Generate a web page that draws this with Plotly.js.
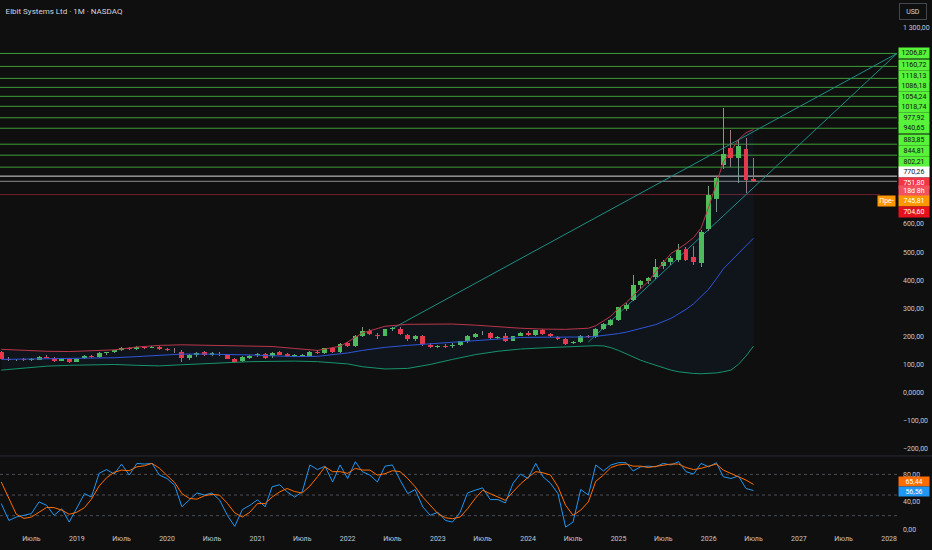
<!DOCTYPE html>
<html><head><meta charset="utf-8">
<script src="https://cdn.plot.ly/plotly-3.0.1.min.js"></script>
<style>html,body{margin:0;padding:0;background:#0f0f0f;overflow:hidden}#chart{width:932px;height:550px}</style>
</head><body><div id="chart"></div>
<script>
// ---------- DATA ----------
const dates = [
'2018-03-01','2018-04-01','2018-05-01','2018-06-01','2018-07-01','2018-08-01','2018-09-01','2018-10-01','2018-11-01','2018-12-01',
'2019-01-01','2019-02-01','2019-03-01','2019-04-01','2019-05-01','2019-06-01','2019-07-01','2019-08-01','2019-09-01','2019-10-01','2019-11-01','2019-12-01',
'2020-01-01','2020-02-01','2020-03-01','2020-04-01','2020-05-01','2020-06-01','2020-07-01','2020-08-01','2020-09-01','2020-10-01','2020-11-01','2020-12-01',
'2021-01-01','2021-02-01','2021-03-01','2021-04-01','2021-05-01','2021-06-01','2021-07-01','2021-08-01','2021-09-01','2021-10-01','2021-11-01','2021-12-01',
'2022-01-01','2022-02-01','2022-03-01','2022-04-01','2022-05-01','2022-06-01','2022-07-01','2022-08-01','2022-09-01','2022-10-01','2022-11-01','2022-12-01',
'2023-01-01','2023-02-01','2023-03-01','2023-04-01','2023-05-01','2023-06-01','2023-07-01','2023-08-01','2023-09-01','2023-10-01','2023-11-01','2023-12-01',
'2024-01-01','2024-02-01','2024-03-01','2024-04-01','2024-05-01','2024-06-01','2024-07-01','2024-08-01','2024-09-01','2024-10-01','2024-11-01','2024-12-01',
'2025-01-01','2025-02-01','2025-03-01','2025-04-01','2025-05-01','2025-06-01','2025-07-01','2025-08-01','2025-09-01','2025-10-01','2025-11-01','2025-12-01',
'2026-01-01','2026-02-01','2026-03-01','2026-04-01','2026-05-01','2026-06-01','2026-07-01'];

const open = [
145,121,115,119,116,117,128,124,113,121,
110,122,130,126,140,143,150,159,155,162,160,163,
155,151,146,122,134,143,135,139,132,121,112,122,
133,136,129,143,136,131,131,130,146,141,157,144,
176,166,203,218,206,203,226,227,204,189,203,171,
163,167,166,168,182,197,211,213,195,200,184,203,
213,206,221,209,197,191,177,180,201,197,227,242,
259,298,331,383,396,412,449,463,472,510,481,461,
582,690,809,871,836,868,761];
const high = [
149,125,121,122,122,131,133,126,124,123,
123,132,133,143,146,152,162,162,165,167,167,166,
158,158,150,138,146,148,144,145,136,124,130,134,
141,141,145,149,140,136,137,147,150,160,162,176,
180,206,235,225,213,230,232,232,208,206,206,175,
170,172,175,184,205,212,218,216,203,212,202,214,
218,224,226,213,201,194,185,206,206,230,248,262,
306,318,420,400,412,475,472,486,528,518,522,580,
735,770,1013,936,903,907,836];
const low = [
118,112,112,114,114,115,122,108,111,106,
108,119,122,124,135,140,147,150,152,155,157,152,
148,142,108,117,128,130,131,131,118,107,110,120,
128,120,122,133,128,126,127,128,139,139,140,142,
162,162,198,205,190,198,218,205,185,185,166,158,
158,160,160,165,178,193,205,192,190,180,180,200,
200,203,205,198,188,170,172,176,193,194,222,238,
255,290,326,370,385,405,440,455,465,468,455,448,
575,644,795,804,745,712,748];
const close = [
121,115,117,116,119,128,124,113,121,110,
121,130,126,141,143,150,159,155,162,160,164,154,
152,150,124,135,142,133,141,136,121,110,127,131,
136,123,142,135,130,131,133,144,141,157,144,173,
166,203,219,210,202,226,229,210,189,203,172,163,
167,164,168,182,203,209,213,195,198,183,200,212,
204,221,207,201,191,174,178,203,197,227,244,259,
304,310,383,396,409,448,466,480,507,473,466,573,
702,765,848,836,879,757,751.8];

// Bollinger bands
const bandDates = ['2018-03-01','2018-06-01','2018-09-01','2018-12-01','2019-03-01','2019-06-01','2019-09-01','2019-12-01',
'2020-03-01','2020-06-01','2020-09-01','2020-12-01','2021-03-01','2021-06-01','2021-09-01','2021-12-01','2022-01-01',
'2022-03-01','2022-06-01','2022-09-01','2022-12-01','2023-03-01','2023-06-01','2023-09-01','2023-12-01','2024-03-01',
'2024-06-01','2024-09-01','2024-10-01','2024-11-01','2024-12-01','2025-01-01','2025-02-01','2025-03-01','2025-04-01',
'2025-05-01','2025-06-01','2025-07-01','2025-08-01','2025-09-01','2025-10-01','2025-11-01','2025-12-01','2026-01-01',
'2026-02-01','2026-03-01','2026-04-01','2026-05-01','2026-06-01','2026-07-01'];
const bandUpper = [154,150,147,146,148,152,162,168,170,169,167,166,164,157,150,165,180,212,236,243,244,244,240,234,229,226,
225,229,238,255,272,300,320,345,370,395,430,462,495,512,530,552,585,660,745,820,860,900,925,936];
const bandBasis = [118,119,120,121,122,124,128,133,137,137,136,134,131,128,129,136,141,150,161,168,174,180,185,190,196,197,
197,198,200,203,206,210,215,222,228,235,242,252,264,280,296,316,340,368,405,440,468,495,525,549];
const bandLower = [80,88,94,97,99,100,97,95,99,103,107,110,111,112,110,105,102,92,84,86,100,118,135,147,155,159,
163,166,167,166,160,150,138,125,115,106,97,88,80,74,70,68,67,68,70,74,80,100,130,165];

// Stochastic RSI
const stochK = [37.6,13,18,20,23,40,35,20.5,30,10.7,
32,52,47,81.5,87,80.5,95,79,96,95,96,79,
74,64,33,42.5,53,50,53,42.5,20.5,4.4,29,35,
43,33,62,65,54.6,47,54.6,93.7,87,92,69,93.7,
74,98.5,84,79,69,92,93.7,71.7,52,58,32.7,20.5,
25,13,10.7,25,53,57,60.5,43.4,43.4,38.5,67,80.5,
74,96,76.6,67,52,3.4,10.7,58,50,93.7,85,93.7,
97,97,85,91,92,91,96,93.7,98.5,84,80.5,96,
91,97,76.6,74,77.6,59.5,56.56];
const stochD = [69,45,22,16,18,25,32,31.7,28,22,
25,31.7,44,63,75,83,86.3,85.4,91,92.5,96,89,
79,68,52,45,44,49,51,49.8,38,24,18,25,
37.6,37.6,47,54.6,59.5,55,53,63,76.6,91,84,84,
81.5,88.8,86.3,86.3,79,81,85.4,84,74,62,47,35,
23,17,15.6,18,30,45,57,52,47,42.4,54.6,66,
75.6,84,82.4,79,62,35,20.5,28,40,70,79,90,
93.7,95,92,92,90,92,93.7,95,95,90,87,88.8,
92,95,86.3,81.5,77.6,71.7,65.44];
const stochLevels = [80, 50, 20];

// Horizontal levels
const greenLevels = [1206.87,1160.72,1118.13,1086.18,1054.24,1018.74,977.92,940.65,883.85,844.81,802.21];
const whiteLevel = 770.26;
const lastPrice = 751.80;
const preMarket = 745.81;
const redLevel = 704.60;

// Trend lines
const trendStartDate = ['2022-07-01','2024-09-01'];
const trendStartPrice = [228, 180];
const trendEndDate = ['2028-02-02','2028-02-02'];
const trendEndPrice = [1206.87, 1206.87];

// Axis tick labels
const xTickVals = ['2018-07-01','2019-01-01','2019-07-01','2020-01-01','2020-07-01','2021-01-01','2021-07-01','2022-01-01',
'2022-07-01','2023-01-01','2023-07-01','2024-01-01','2024-07-01','2025-01-01','2025-07-01','2026-01-01','2026-07-01',
'2027-01-01','2027-07-01','2028-01-01'];
const xTickText = ['Июль','2019','Июль','2020','Июль','2021','Июль','2022','Июль','2023','Июль','2024','Июль','2025','Июль',
'2026','Июль','2027','Июль','2028'];
const yTickVals = [1300,600,500,400,300,200,100,0,-100,-200];
const yTickText = ['1 300,00','600,00','500,00','400,00','300,00','200,00','100,00','0,0000','−100,00','−200,00'];
const y2TickVals = [80,40,0];
const y2TickText = ['80,00','40,00','0,00'];

// ---------- STYLE ----------
const BG = '#0f0f0f', TXT = '#c6c8cf', FONT = 'Roboto, "Noto Sans", sans-serif';
const UP = '#4fbf55', DOWN = '#f23645';
const DAY = 86400000;
const fmt = v => v.toFixed(2).replace('.', ',');

// candles drawn as bars: wick bars then body bars
const isUp = close.map((c, i) => c >= open[i]);
const bodyBase = close.map((c, i) => Math.min(c, open[i]));
const bodyLen = close.map((c, i) => Math.max(Math.abs(c - open[i]), 2.5));
const wickLen = high.map((h, i) => h - low[i]);
const colors = isUp.map(u => u ? UP : DOWN);
const wickColors = isUp.map(u => u ? '#7f9a83' : '#a07a80');

const traces = [
  {type:'bar', x:dates, base:low, y:wickLen, width:4*DAY, marker:{color:wickColors, line:{width:0}}, hoverinfo:'skip', xaxis:'x', yaxis:'y'},
  {type:'bar', x:dates, base:bodyBase, y:bodyLen, width:20*DAY, marker:{color:colors, line:{width:0}}, hoverinfo:'skip', xaxis:'x', yaxis:'y'},
  {type:'scatter', mode:'lines', x:bandDates, y:bandLower, line:{color:'#16936b', width:1}, hoverinfo:'skip', xaxis:'x', yaxis:'y'},
  {type:'scatter', mode:'lines', x:bandDates, y:bandUpper, line:{color:'#b9364a', width:1}, fill:'tonexty',
   fillcolor:'rgba(33,120,243,0.06)', hoverinfo:'skip', xaxis:'x', yaxis:'y'},
  {type:'scatter', mode:'lines', x:bandDates, y:bandBasis, line:{color:'#2e55d8', width:1}, hoverinfo:'skip', xaxis:'x', yaxis:'y'},
  {type:'scatter', mode:'lines', x:dates, y:stochK, line:{color:'#2196f3', width:1}, hoverinfo:'skip', xaxis:'x', yaxis:'y2'},
  {type:'scatter', mode:'lines', x:dates, y:stochD, line:{color:'#ff6d00', width:1}, hoverinfo:'skip', xaxis:'x', yaxis:'y2'}
];

const shapes = [];
greenLevels.forEach(v => shapes.push({type:'line', xref:'paper', x0:0, x1:1, yref:'y', y0:v, y1:v, line:{color:'#3f9d38', width:1}, layer:'below'}));
shapes.push({type:'line', xref:'paper', x0:0, x1:1, yref:'y', y0:whiteLevel, y1:whiteLevel, line:{color:'#d8d8d8', width:1}, layer:'below'});
shapes.push({type:'line', xref:'paper', x0:0, x1:1, yref:'y', y0:lastPrice, y1:lastPrice, line:{color:'#8a8a8a', width:1}, layer:'below'});
shapes.push({type:'line', xref:'paper', x0:0, x1:0.981, yref:'y', y0:redLevel, y1:redLevel, line:{color:'#6e1f2a', width:1}, layer:'below'});
trendStartDate.forEach((d, i) => shapes.push({type:'line', xref:'x', yref:'y', x0:d, y0:trendStartPrice[i], x1:trendEndDate[i], y1:trendEndPrice[i],
  line:{color:'#1d8f86', width:1}, layer:'below'}));
stochLevels.forEach(v => shapes.push({type:'line', xref:'paper', x0:0, x1:1, yref:'y2', y0:v, y1:v, line:{color:'#4a4d55', width:1, dash:'dot'}, layer:'below'}));
shapes.push({type:'line', xref:'paper', x0:0, x1:1.04, yref:'paper', y0:0.1445, y1:0.1445, line:{color:'#2a2c31', width:1}});

// right-side price labels
const greenShift = [0, 1.4, 2.4, 1.4, -0.3, -1, -0.5, 0, 4.2, 4.5, 5.5];
const annotations = [];
function box(yref, y, text, bg, fg, shift, opts) {
  annotations.push(Object.assign({xref:'paper', x:1, xanchor:'left', xshift:1, yref:yref, y:y, yanchor:'middle', yshift:shift,
    text:text, showarrow:false, bgcolor:bg, borderpad:1, width:28, height:8, align:'center',
    font:{family:FONT, size:7, color:fg}}, opts || {}));
}
greenLevels.forEach((v, i) => box('y', v, fmt(v), '#58f23a', '#111', greenShift[i]));
box('y', whiteLevel, fmt(whiteLevel), '#ffffff', '#111', 3.9);
box('y', lastPrice, fmt(lastPrice), '#f23645', '#fff', -1.4);
box('y', lastPrice, '18d 8h', '#f2525f', '#fff', -9.6);
box('y', preMarket, fmt(preMarket), '#ff9800', '#fff', -18);
box('y', preMarket, 'Пре-', '#ff9800', '#fff', -18, {x:1, xanchor:'right', xshift:-1, width:15});
box('y', redLevel, fmt(redLevel), '#e5121d', '#fff', -17.1);
box('y2', stochD[stochD.length-1], fmt(stochD[stochD.length-1]), '#ff6d00', '#fff', 2.6, {height:7});
box('y2', stochK[stochK.length-1], fmt(stochK[stochK.length-1]), '#2196f3', '#fff', -0.5, {height:7});
annotations.push({xref:'paper', x:1, xanchor:'left', xshift:2, yref:'paper', y:1, yanchor:'top', yshift:-3,
  text:'USD', showarrow:false, bgcolor:BG, bordercolor:'#45474e', borderwidth:1, borderpad:2, width:22, height:11,
  font:{family:FONT, size:7, color:'#d1d4dc'}});

const layout = {
  width:932, height:550, paper_bgcolor:BG, plot_bgcolor:BG, showlegend:false, hovermode:false,
  barmode:'overlay', bargap:0,
  margin:{l:0, r:35, t:0, b:17},
  title:{text:'Elbit Systems Ltd · 1M · NASDAQ', x:0.006, xanchor:'left', xref:'container', y:0.98, yref:'container', yanchor:'middle',
    font:{family:FONT, size:8, color:'#d1d4dc'}},
  xaxis:{type:'date', range:['2018-02-24','2028-02-02'], anchor:'y2', showgrid:false, zeroline:false, showline:false,
    tickmode:'array', tickvals:xTickVals, ticktext:xTickText, ticks:'', tickfont:{family:FONT, size:7, color:TXT},
    fixedrange:true},
  yaxis:{domain:[0.1445, 1], range:[-225.6, 1397], side:'right', anchor:'x', showgrid:false, zeroline:false, showline:false,
    tickmode:'array', tickvals:yTickVals, ticktext:yTickText, ticks:'', ticklabelstandoff:5,
    tickfont:{family:FONT, size:7, color:TXT}, fixedrange:true},
  yaxis2:{domain:[0, 0.1426], range:[-5.2, 105.3], side:'right', anchor:'x', showgrid:false, zeroline:false, showline:false,
    tickmode:'array', tickvals:y2TickVals, ticktext:y2TickText, ticks:'', ticklabelstandoff:5,
    tickfont:{family:FONT, size:7, color:TXT}, fixedrange:true},
  shapes:shapes, annotations:annotations
};

Plotly.newPlot('chart', traces, layout, {displayModeBar:false, staticPlot:true});
</script>
</body></html>
